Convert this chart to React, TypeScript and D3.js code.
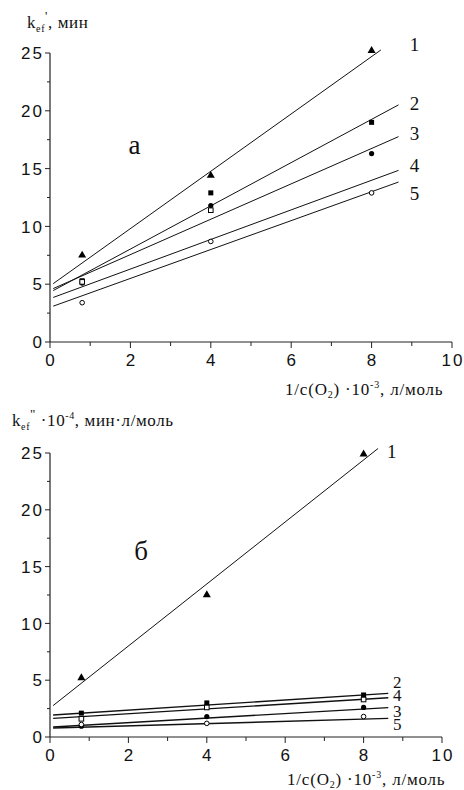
import React from 'react';
import * as d3 from 'd3';

// measured points (x = 1/c(O2)*10^-3)
const xPoints = [0.8, 4, 8];
const seriesNames = ['1', '2', '3', '4', '5'];
const markerKinds = ['triangle', 'square', 'circle', 'squareOpen', 'circleOpen'];

// panel a
const topS1 = [7.5, 14.4, 25.2];
const topS2 = [5.3, 12.9, 19.0];
const topS3 = [5.1, 11.8, 16.3];
const topS4 = [5.2, 11.4, null];
const topS5 = [3.4, 8.7, 12.9];
const topIntercept = [4.85, 4.3, 4.5, 3.75, 3.0];
const topSlope = [2.48, 1.87, 1.53, 1.28, 1.25];
const topFitEnd = [8.23, 8.67, 8.67, 8.67, 8.67];
const topLabelX = [8.95, 8.95, 8.95, 8.95, 8.95];
const topLabelY = [25.2, 20.05, 17.45, 14.7, 12.3];

// panel b
const botS1 = [5.2, 12.5, 24.9];
const botS2 = [2.1, 3.0, 3.7];
const botS3 = [0.95, 1.8, 2.6];
const botS4 = [1.6, 2.6, 3.3];
const botS5 = [1.1, 1.2, 1.8];
const botIntercept = [2.55, 1.92, 0.86, 1.62, 0.79];
const botSlope = [2.73, 0.223, 0.2, 0.213, 0.098];
const botFitEnd = [8.37, 8.63, 8.63, 8.63, 8.63];
const botLabelX = [8.6, 8.75, 8.75, 8.75, 8.75];
const botLabelY = [24.6, 4.3, 1.76, 3.17, 0.6];

const fitStart = 0.08;
const xTicks = [0, 2, 4, 6, 8, 10];
const yTicks = [0, 5, 10, 15, 20, 25];

const serif = '"Liberation Serif", "Times New Roman", serif';
const sans = '"Liberation Sans", Arial, sans-serif';

function Marker({ kind, x, y }) {
  if (kind === 'triangle') {
    const p = d3.symbol(d3.symbolTriangle, 28)();
    return <path d={p} transform={`translate(${x},${y})`} fill="#000" />;
  }
  if (kind === 'square') return <rect x={x - 2.5} y={y - 2.5} width={5} height={5} fill="#000" />;
  if (kind === 'squareOpen')
    return <rect x={x - 2.3} y={y - 2.3} width={4.6} height={4.6} fill="#fff" stroke="#000" strokeWidth={1} />;
  if (kind === 'circle') return <circle cx={x} cy={y} r={2.6} fill="#000" />;
  return <circle cx={x} cy={y} r={2.3} fill="#fff" stroke="#000" strokeWidth={1} />;
}

function Panel({ left, right, top, bottom, series, intercepts, slopes, fitEnds, labelX, labelY, labelSize, letter, letterPos, lineW }) {
  const x = d3.scaleLinear().domain([0, 10]).range([left, right]);
  const y = d3.scaleLinear().domain([0, 25]).range([bottom, top]);
  const line = d3.line<number>().x(d => x(d[0])).y(d => y(d[1]));
  const minorX = d3.range(1, 10, 2);
  const minorY = d3.range(2.5, 25, 5);
  return (
    <g>
      {/* axes */}
      <line x1={left} x2={left} y1={y(0)} y2={y(25)} stroke="#222" strokeWidth={1.2} />
      <line x1={left} x2={x(10)} y1={y(0)} y2={y(0)} stroke="#222" strokeWidth={1.2} />
      {yTicks.map(t => (
        <g key={'y' + t}>
          <line x1={left - 5} x2={left} y1={y(t)} y2={y(t)} stroke="#222" />
          <text x={left - 6} y={y(t)} dy="0.36em" textAnchor="end" fontFamily={sans} fontSize={17} letterSpacing={2} fill="#111">{t}</text>
        </g>
      ))}
      {minorY.map(t => <line key={'my' + t} x1={left - 3} x2={left} y1={y(t)} y2={y(t)} stroke="#222" />)}
      {xTicks.map(t => (
        <g key={'x' + t}>
          <line x1={x(t)} x2={x(t)} y1={y(0)} y2={y(0) + 6} stroke="#222" />
          <text x={x(t) + 1} y={y(0) + 24} textAnchor="middle" fontFamily={sans} fontSize={17} letterSpacing={2} fill="#111">{t}</text>
        </g>
      ))}
      {minorX.map(t => <line key={'mx' + t} x1={x(t)} x2={x(t)} y1={y(0)} y2={y(0) + 4} stroke="#222" />)}
      {/* fitted lines */}
      {intercepts.map((b, i) => (
        <path key={'f' + i} d={line([[fitStart, b + slopes[i] * fitStart], [fitEnds[i], b + slopes[i] * fitEnds[i]]])}
          fill="none" stroke="#111" strokeWidth={i === 0 ? 1 : lineW} />
      ))}
      {/* points */}
      {series.map((vals, i) =>
        vals.map((v, j) => v == null ? null : (
          <Marker key={`m${i}-${j}`} kind={markerKinds[i]} x={x(xPoints[j])} y={y(v)} />
        ))
      )}
      {seriesNames.map((n, i) => (
        <text key={'l' + n} x={x(labelX[i])} y={y(labelY[i])} fontFamily={serif} fontSize={i === 0 ? 19 : labelSize} fill="#111">{n}</text>
      ))}
      <text x={x(letterPos[0])} y={y(letterPos[1])} fontFamily={serif} fontSize={27} fill="#111">{letter}</text>
    </g>
  );
}

export default function App() {
  return (
    <svg width={464} height={790} style={{ position: 'absolute', left: 0, top: 0, background: '#fff' }}>
      <rect width={464} height={790} fill="#fff" />
      <text x={27} y={28} fontFamily={serif} fontSize={17} letterSpacing={0.6} fill="#111">
        k<tspan dy={4} fontSize={10}>ef</tspan><tspan dy={-12} fontSize={13}>'</tspan><tspan dy={8}>, мин</tspan>
      </text>
      <Panel left={50} right={452} top={53} bottom={342}
        series={[topS1, topS2, topS3, topS4, topS5]}
        intercepts={topIntercept} slopes={topSlope} fitEnds={topFitEnd}
        labelX={topLabelX} labelY={topLabelY} labelSize={19} letter="а" letterPos={[1.95, 16.3]} lineW={1} />
      <text x={285} y={395} fontFamily={serif} fontSize={17} letterSpacing={0.8} fill="#111">
        1/c(O<tspan dy={3} fontSize={10}>2</tspan><tspan dy={-3}>) ·10</tspan><tspan dy={-7} fontSize={10}>-3</tspan><tspan dy={7}>, л/моль</tspan>
      </text>

      <text x={12} y={426} fontFamily={serif} fontSize={17} letterSpacing={0.6} fill="#111">
        k<tspan dy={4} fontSize={10}>ef</tspan><tspan dy={-12} fontSize={13}>"</tspan><tspan dy={8}> ·10</tspan><tspan dy={-7} fontSize={10}>-4</tspan><tspan dy={7}>, мин·л/моль</tspan>
      </text>
      <Panel left={50} right={442} top={453} bottom={737}
        series={[botS1, botS2, botS3, botS4, botS5]}
        intercepts={botIntercept} slopes={botSlope} fitEnds={botFitEnd}
        labelX={botLabelX} labelY={botLabelY} labelSize={17} letter="б" letterPos={[2.15, 15.6]} lineW={1.4} />
      <text x={287} y={785} fontFamily={serif} fontSize={17} letterSpacing={0.8} fill="#111">
        1/c(O<tspan dy={3} fontSize={10}>2</tspan><tspan dy={-3}>) ·10</tspan><tspan dy={-7} fontSize={10}>-3</tspan><tspan dy={7}>, л/моль</tspan>
      </text>
    </svg>
  );
}
